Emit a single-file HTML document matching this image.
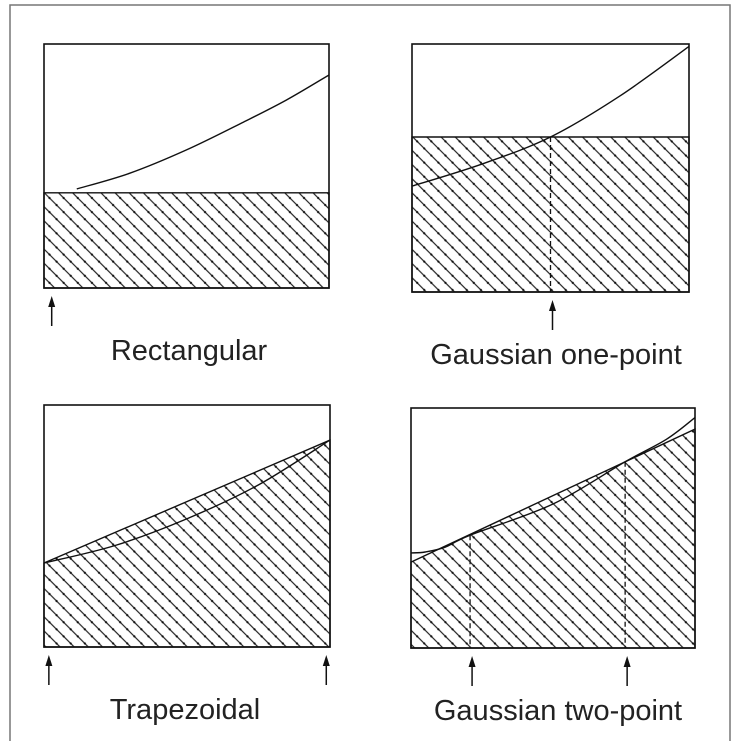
<!DOCTYPE html>
<html><head><meta charset="utf-8"><style>
html,body{margin:0;padding:0;background:#fff;}
svg{display:block;font-family:"Liberation Sans",sans-serif;}
</style></head><body>
<svg id="fig" width="735" height="741" viewBox="0 0 735 741">
<defs>
<pattern id="hatch" patternUnits="userSpaceOnUse" width="10" height="10" patternTransform="rotate(45)">
<line x1="0" y1="5" x2="10" y2="5" stroke="#222" stroke-width="1.2"/>
<circle cx="5" cy="5" r="1.1" fill="#111"/>
</pattern>
</defs>
<rect x="10" y="5" width="720" height="745" fill="none" stroke="#777" stroke-width="1.5"/>
<g id="panels"></g>
</svg>
<script>
// Panel 1 (Rectangular)
const p1CurveX=[0.115,0.3,0.5,0.7,0.85,1];
const p1CurveY=[0.406,0.47,0.566,0.68,0.77,0.873];
const p1Level=0.39;
const p1Points=[0.02];
// Panel 2 (Gaussian one-point)
const p2CurveX=[0,0.25,0.5,0.75,1];
const p2CurveY=[0.427,0.515,0.625,0.79,0.99];
const p2Level=0.625;
const p2Points=[0.5];
// Panel 3 (Trapezoidal)
const p3CurveX=[0,0.25,0.5,0.75,1];
const p3CurveY=[0.347,0.42,0.53,0.67,0.855];
const p3LineY=[0.347,0.855];
const p3Points=[0.01,0.98];
// Panel 4 (Gaussian two-point)
const p4CurveX=[0,0.05,0.12,0.208,0.5,0.754,0.9,1];
const p4CurveY=[0.396,0.40,0.42,0.47,0.60,0.776,0.87,0.96];
const p4LineY=[0.358,0.912];
const p4Points=[0.208,0.754];
const labels=["Rectangular","Gaussian one-point","Trapezoidal","Gaussian two-point"];

const NS="http://www.w3.org/2000/svg";
const root=document.getElementById('panels');
function mk(tag,attrs,parent){const e=document.createElementNS(NS,tag);for(const k in attrs)e.setAttribute(k,attrs[k]);(parent||root).appendChild(e);return e;}
function axes(b){return {x:v=>b.x0+v*(b.x1-b.x0),y:v=>b.y1-v*(b.y1-b.y0)};}
function smoothPath(s,xs,ys){
  const pts=xs.map((v,i)=>[s.x(v),s.y(ys[i])]);
  let d='M'+pts[0][0]+','+pts[0][1];
  for(let i=0;i<pts.length-1;i++){const p0=pts[Math.max(0,i-1)],p1=pts[i],p2=pts[i+1],p3=pts[Math.min(pts.length-1,i+2)];
    const c1=[p1[0]+(p2[0]-p0[0])/6,p1[1]+(p2[1]-p0[1])/6],c2=[p2[0]-(p3[0]-p1[0])/6,p2[1]-(p3[1]-p1[1])/6];
    d+=' C'+c1.join(',')+' '+c2.join(',')+' '+p2.join(',');}
  return d;}
function interp(xs,ys,x){for(let i=0;i<xs.length-1;i++){if(x<=xs[i+1]){const t=(x-xs[i])/(xs[i+1]-xs[i]);return ys[i]+t*(ys[i+1]-ys[i]);}}return ys[ys.length-1];}
function arrow(g,x,yTop,name){
  const a=mk('g',{},g);
  
  
  mk('line',{x1:x,y1:yTop+8,x2:x,y2:yTop+30,stroke:'#111','stroke-width':1.5},a);
  mk('polygon',{points:`${x-3.5},${yTop+11} ${x+3.5},${yTop+11} ${x},${yTop}`,fill:'#111'},a);
}
const boxes=[{x0:44,x1:329,y0:44,y1:288,lx:189},{x0:412,x1:689,y0:44,y1:292,lx:556},{x0:44,x1:330,y0:405,y1:647,lx:185},{x0:411,x1:695,y0:408,y1:648,lx:558}];
const names=['rectangular','gaussian-one-point','trapezoidal','gaussian-two-point'];
boxes.forEach((b,k)=>{
  const s=axes(b);
  const g=mk('g',{});
  
  
  let area,curve,points;
  if(k===0||k===1){
    const lvl=k===0?p1Level:p2Level;
    area=`M${b.x0},${s.y(lvl)} L${b.x1},${s.y(lvl)} L${b.x1},${b.y1} L${b.x0},${b.y1} Z`;
    curve=[k===0?p1CurveX:p2CurveX,k===0?p1CurveY:p2CurveY];
    points=k===0?p1Points:p2Points;
  } else {
    const ly=k===2?p3LineY:p4LineY;
    area=`M${b.x0},${s.y(ly[0])} L${b.x1},${s.y(ly[1])} L${b.x1},${b.y1} L${b.x0},${b.y1} Z`;
    curve=[k===2?p3CurveX:p4CurveX,k===2?p3CurveY:p4CurveY];
    points=k===2?p3Points:p4Points;
  }
  const h=mk('path',{d:area,fill:'url(#hatch)',stroke:'#111','stroke-width':1.4},g);
  
  
  const c=mk('path',{d:smoothPath(s,curve[0],curve[1]),fill:'none',stroke:'#111','stroke-width':1.4},g);
  
  
  const fr=mk('rect',{x:b.x0,y:b.y0,width:b.x1-b.x0,height:b.y1-b.y0,fill:'none',stroke:'#111','stroke-width':1.6},g);
  
  
  points.forEach((p,i)=>{
    if(k===1||k===3){
      const yv=interp(curve[0],curve[1],p);
      const dl=mk('line',{x1:s.x(p),y1:s.y(yv),x2:s.x(p),y2:b.y1,stroke:'#111','stroke-width':1.3,'stroke-dasharray':'5,3'},g);
      
      
    }
    arrow(g,s.x(p)+2,b.y1+8,'sample-arrow-'+(i+1));
  });
  const t=mk('text',{x:b.lx,y:b.y1+72,'text-anchor':'middle','font-size':29,fill:'#222'},g);
  t.textContent=labels[k];
  
  
});
</script>
</body></html>
